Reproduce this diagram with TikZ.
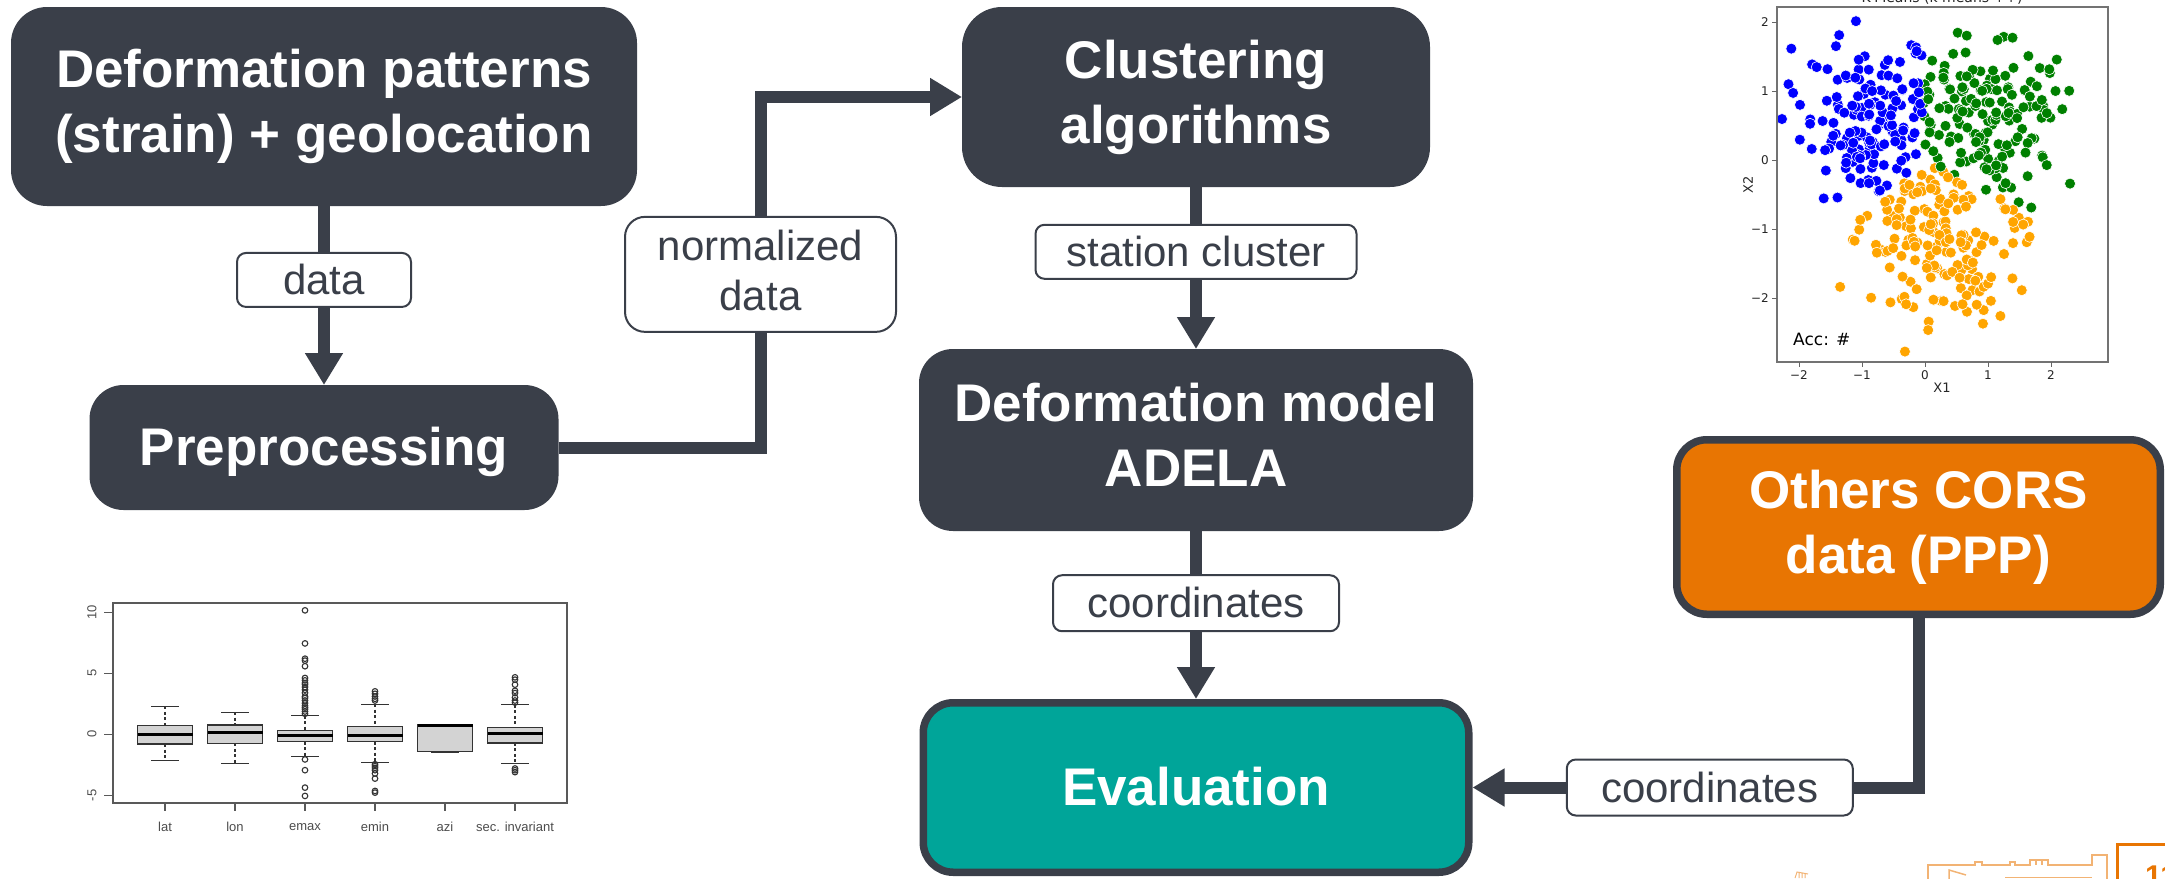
\documentclass[tikz,border=0pt]{standalone}
\usepackage{fontspec}
\setmainfont{Liberation Sans}
\newfontfamily\dejavu{DejaVu Sans}
\usetikzlibrary{arrows.meta}
\definecolor{dk}{HTML}{3A3F49}
\definecolor{tealbox}{HTML}{00A599}
\definecolor{orgbox}{HTML}{E87502}
\definecolor{kb}{HTML}{0000FF}
\definecolor{kg}{HTML}{008000}
\definecolor{ko}{HTML}{FFA500}
\definecolor{bpgray}{HTML}{D3D3D3}
\newcommand\HeadStrut{\rule[-11.2pt]{0pt}{59.2pt}}
\newcommand\LblStrut{\rule[-8.9pt]{0pt}{46.9pt}}
\newcommand\bpbox[6]{%
  \draw[bpw] ({#1},{734.3-12.2*(#2)}) -- ({#1},{734.3-12.2*(#3)});
  \draw[bpw] ({#1},{734.3-12.2*(#5)}) -- ({#1},{734.3-12.2*(#6)});
  \draw[bpc] ({#1-13.75},{734.3-12.2*(#2)}) -- ({#1+13.75},{734.3-12.2*(#2)});
  \draw[bpc] ({#1-13.75},{734.3-12.2*(#6)}) -- ({#1+13.75},{734.3-12.2*(#6)});
  \draw[bpb] ({#1-27.5},{734.3-12.2*(#3)}) rectangle ({#1+27.5},{734.3-12.2*(#5)});
  \draw[bpm] ({#1-27.5},{734.3-12.2*(#4)}) -- ({#1+27.5},{734.3-12.2*(#4)});
}
\begin{document}
\begin{tikzpicture}[x=1pt,y=-1pt,
  darkbox/.style={rectangle, rounded corners=36pt, fill=dk, text=white, align=center,
    inner sep=0pt, outer sep=0pt, font=\fontsize{53}{65}\selectfont\bfseries,
    execute at begin node=\HeadStrut, execute at end node=\HeadStrut},
  framedbox/.style={darkbox, rounded corners=30pt, draw=dk, line width=7.5pt, outer sep=3.75pt},
  lbl/.style={rectangle, rounded corners=9pt, draw=dk, line width=2pt, fill=white, text=dk,
    font=\fontsize{42}{50}\selectfont, align=center, inner sep=0pt, minimum height=54pt,
    execute at begin node=\LblStrut, execute at end node=\LblStrut},
  conn/.style={draw=dk, line width=12pt, line join=miter, -{Triangle[length=32pt,width=36pt]}},
  bpf/.style={draw=black!65, line width=1.3pt},
  bpw/.style={draw=black!80, line width=1.1pt, dash pattern=on 3pt off 2.5pt},
  bpc/.style={draw=black!80, line width=1.2pt},
  bpb/.style={draw=black!80, fill=bpgray, line width=1.3pt},
  bpm/.style={draw=black, line width=3pt},
  bpo/.style={draw=black!80, line width=1.1pt},
  bpt/.style={text=black!70, font=\fontsize{13}{13}\selectfont, inner sep=0pt},
  sct/.style={text=black!85, font=\dejavu\fontsize{12}{12}\selectfont, inner sep=0pt},
  bld/.style={draw=orgbox!55!white, line width=1.5pt}
]
\clip (0,0) rectangle (2165,878);

% ---------- main nodes ----------
\node[darkbox, minimum width=626pt, minimum height=199pt] (src) at (324,106.5)
  {Deformation patterns\\(strain) + geolocation};
\node[darkbox, rounded corners=34pt, minimum width=469pt, minimum height=125pt] (prep) at (324,447.5)
  {Preprocessing};
\node[darkbox, rounded corners=40pt, minimum width=468pt, minimum height=180pt] (clu) at (1196,97)
  {Clustering\\algorithms};
\node[darkbox, rounded corners=34pt, minimum width=554pt, minimum height=182pt] (def) at (1196,440)
  {Deformation model\\ADELA};
\node[framedbox, fill=tealbox, minimum width=545.5pt, minimum height=169.5pt] (eva) at (1196,787.5)
  {Evaluation};
\node[framedbox, fill=orgbox, minimum width=483.5pt, minimum height=174.5pt] (oth) at (1918.5,527)
  {Others CORS\\data (PPP)};

% ---------- connectors ----------
\draw[conn] (src) -- node[lbl, pos=0.413, minimum width=174pt] {data} (prep);
\draw[conn] (prep.east) -- ++(202,0) |- node[lbl, pos=0.247, rounded corners=20pt, minimum width=271pt, minimum height=115pt] {normalized\\data} (clu.west);
\draw[conn] (clu) -- node[lbl, pos=0.40, minimum width=321pt] {station cluster} (def);
\draw[conn] (def) -- node[lbl, pos=0.43, minimum width=286pt, minimum height=56pt] {coordinates} (eva);
\draw[conn] (oth.south) |- node[lbl, pos=0.734, minimum width=286pt, minimum height=56pt] {coordinates} (eva.east);

% ---------- box plot ----------
\draw[bpf] (113,603) rectangle (567,803);
\foreach \v in {10,5,0,-5}{
  \draw[bpf] (104,{734.3-12.2*(\v)}) -- (113,{734.3-12.2*(\v)});
  \node[bpt, rotate=90] at (92,{734.3-12.2*(\v)}) {\v};
}
\foreach \x/\t in {165/lat,235/lon,305/emax,375/emin,445/azi,515/sec. invariant}{
  \draw[bpf] (\x,803) -- (\x,811);
  \node[bpt] at (\x,827) {\t};
}
\bpbox{165}{2.28}{0.71}{0}{-0.8}{-2.14}
\bpbox{235}{1.81}{0.77}{0.11}{-0.74}{-2.42}
\bpbox{305}{1.54}{0.3}{-0.11}{-0.6}{-1.84}
\bpbox{375}{2.47}{0.63}{-0.08}{-0.6}{-2.34}
\bpbox{445}{0.82}{0.77}{0.69}{-1.43}{-1.48}
\bpbox{515}{2.42}{0.58}{0.05}{-0.71}{-2.42}
\foreach \v in {10.16,7.45,6.2,6.04,5.58,4.62,4.42,4.2,4.07,3.87,3.65,3.4,3.1,2.97,2.77,2.55,2.34,2.2,2.06,1.87,1.68,-2.06,-2.94,-4.37,-5.05}
  \draw[bpo] (305,{734.3-12.2*(\v)}) circle (2.8pt);
\foreach \v in {3.52,3.32,3.1,2.91,2.77,-2.45,-2.6,-2.75,-2.94,-3.21,-3.63,-4.64,-4.78}
  \draw[bpo] (375,{734.3-12.2*(\v)}) circle (2.8pt);
\foreach \v in {4.67,4.48,4.07,3.57,3.38,3.02,2.77,2.6,-2.8,-2.94,-3.1}
  \draw[bpo] (515,{734.3-12.2*(\v)}) circle (2.8pt);

% ---------- scatter plot ----------
\begin{scope}
  \clip (1777,7) rectangle (2108,362);
  \pgfmathsetseed{11}
  \foreach \cx/\cy/\sx/\sy/\n in {-0.95/0.65/0.52/0.58/150, 0.95/0.65/0.58/0.55/160, 0.15/-1.15/0.68/0.62/170}{
    \foreach \i in {1,...,\n}{
      \pgfmathsetmacro\px{\cx+\sx*(rand+rand+rand)}
      \pgfmathsetmacro\py{\cy+\sy*(rand+rand+rand)}
      \pgfmathsetmacro\da{(\px+1.0)^2+(\py-0.65)^2}
      \pgfmathsetmacro\db{(\px-0.95)^2+(\py-0.65)^2}
      \pgfmathsetmacro\dc{(\px-0.15)^2+(\py+1.2)^2}
      \pgfmathtruncatemacro\cl{ifthenelse(\da<\db, ifthenelse(\da<\dc,0,2), ifthenelse(\db<\dc,1,2))}
      \ifcase\cl \def\col{kb}\or \def\col{kg}\else \def\col{ko}\fi
      \filldraw[fill=\col, draw=white, line width=0.6pt] ({1925+63*(\px)},{160-69*(\py)}) circle (5.5pt);
    }
  }
\end{scope}
\draw[draw=black!55, line width=1.2pt] (1777,7) rectangle (2108,362);
\foreach \v/\t in {-2/−2,-1/−1,0/0,1/1,2/2}{
  \draw[black!60, line width=1pt] ({1925+63*(\v)},362) -- ({1925+63*(\v)},367);
  \node[sct] at ({1925+63*(\v)},375) {\t};
  \draw[black!60, line width=1pt] (1777,{160-69*(\v)}) -- (1772,{160-69*(\v)});
  \node[sct, anchor=east] at (1769,{160-69*(\v)}) {\t};
}
\node[sct, font=\dejavu\fontsize{13}{13}\selectfont] (xl) at (1942,388) {X1};
\node[sct, font=\dejavu\fontsize{13}{13}\selectfont, rotate=90] (yl) at (1748,184.5) {X2};
\node[sct, anchor=base, font=\dejavu\fontsize{14}{14}\selectfont] (ttl) at (1942,2) {K-Means (k means ++)};
\node[sct, anchor=base west, text=black, font=\dejavu\fontsize{17}{17}\selectfont] (acc) at (1793,345) {Acc: \#};

% ---------- slide corner ----------
\draw[draw=orgbox, line width=3pt] (2117,844) rectangle (2210,910);
\node[anchor=north west, inner sep=0pt, text=orgbox, font=\fontsize{30}{30}\selectfont\bfseries] (pg) at (2145,866) {11};
\draw[bld] (1928,880) -- (1928,865) -- (1975,865) -- (1975,862) -- (1982,862) -- (1982,865) -- (2010,865) -- (2010,862) -- (2015,862) -- (2015,865) -- (2030,865) -- (2030,860) -- (2048,860) -- (2048,865) -- (2092,865) -- (2092,855) -- (2107,855) -- (2107,880);
\draw[bld] (2036,860) -- (2036,865) (2042,860) -- (2042,865);
\draw[bld] (1949,880) -- (1949,870) -- (1966,875);
\draw[bld] (2005,877.5) -- (2092,877.5);
\draw[bld, line width=1pt] (1795,878) -- (1797,872) -- (1808,874) (1799,872) -- (1799,878) (1802,873) -- (1802,878) (1805,873.5) -- (1805,878);
\end{tikzpicture}
\end{document}
